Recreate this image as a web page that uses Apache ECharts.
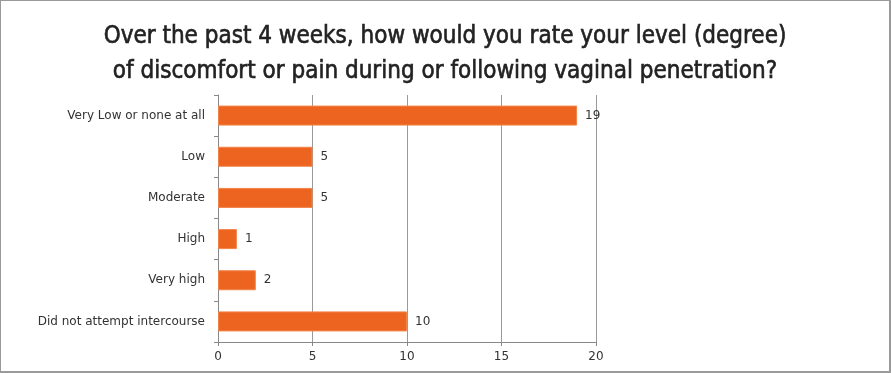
<!DOCTYPE html>
<html><head><meta charset="utf-8">
<script src="https://cdn.jsdelivr.net/npm/echarts@6/dist/echarts.min.js"></script>
<style>html,body{margin:0;padding:0;background:#fff}#c{width:891px;height:373px;box-sizing:border-box;border:1px solid #9a9a9a;border-right-width:2px;border-bottom-width:2px}</style>
</head><body><div id="c"></div>
<script>
const categories = ["Very Low or none at all","Low","Moderate","High","Very high","Did not attempt intercourse"];
const values = [19,5,5,1,2,10];
const titleText = "Over the past 4 weeks, how would you rate your level (degree)\nof discomfort or pain during or following vaginal penetration?";
const xTicks = [0,5,10,15,20];

const chart = echarts.init(document.getElementById('c'));
chart.setOption({
  animation:false,
  title:{text:titleText,left:'center',top:13,textStyle:{fontFamily:'"DejaVu Sans Condensed", serif',fontSize:24,fontWeight:'normal',color:'#222',lineHeight:35,textBorderColor:'#222',textBorderWidth:0.6}},
  grid:{left:217,right:293,top:94,bottom:29},
  xAxis:{type:'value',min:xTicks[0],max:xTicks[xTicks.length-1],interval:5,
    axisLine:{show:true,lineStyle:{color:'#888'}},
    axisTick:{show:true,length:4,lineStyle:{color:'#888'}},
    splitLine:{show:true,lineStyle:{color:'#999'}},
    axisLabel:{fontFamily:'DejaVu Sans',fontSize:12,color:'#333',margin:9}},
  yAxis:{type:'category',data:categories,inverse:true,
    axisLine:{show:true,lineStyle:{color:'#888'}},
    axisTick:{show:true,length:4,lineStyle:{color:'#888'}},
    axisLabel:{fontFamily:'DejaVu Sans',fontSize:12,color:'#333',margin:13}},
  series:[{type:'bar',data:values,barWidth:20,
    itemStyle:{color:'#ec6420',borderColor:'#f2854a',borderWidth:1},
    label:{show:true,position:'right',distance:8,fontFamily:'DejaVu Sans',fontSize:12,color:'#333'}}]
});
</script></body></html>
